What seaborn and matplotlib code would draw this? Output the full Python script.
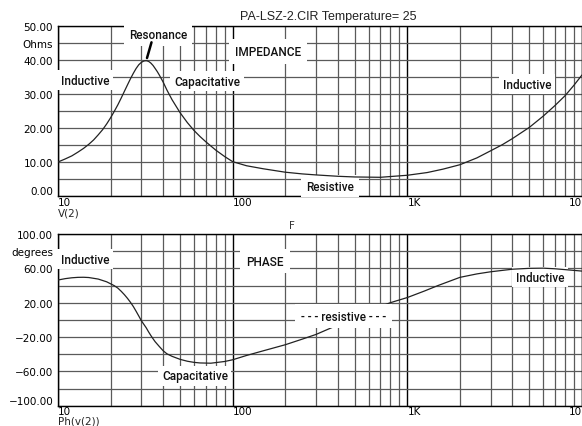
import seaborn as sns
import matplotlib.pyplot as plt
from matplotlib.ticker import LogLocator, MultipleLocator, NullFormatter

# impedance |V(2)| in ohms
freq_z = [10, 11, 12, 13, 14, 15, 16, 17, 18, 19, 20, 21, 22, 23, 24, 25, 26, 27, 28, 29,
          30, 31, 32, 33, 34, 35, 36, 37, 38, 40, 42, 45, 50, 55, 60, 65, 70, 80, 90,
          100, 120, 150, 200, 250, 300, 400, 500, 700, 1000, 1300, 1600, 2000, 2500,
          3000, 3500, 4000, 5000, 6000, 7000, 8000, 9000, 10000]
impedance = [10.0, 10.9, 11.8, 12.9, 14.0, 15.2, 16.5, 18.0, 19.5, 21.2, 23.0, 24.9,
             26.8, 28.8, 30.8, 32.7, 34.5, 36.1, 37.5, 38.6, 39.3, 39.7, 39.8, 39.6,
             39.1, 38.4, 37.5, 36.6, 35.6, 33.5, 31.2, 28.3, 24.5, 21.6, 19.3, 17.5,
             16.0, 13.5, 11.6, 10.1, 8.9, 8.0, 7.0, 6.5, 6.2, 5.8, 5.6, 5.5, 6.1, 6.9,
             7.9, 9.2, 11.2, 13.3, 15.1, 16.9, 20.2, 23.5, 26.6, 29.5, 32.6, 35.6]

# phase of V(2) in degrees, lower trace
freq_ph = [10, 11, 12, 13, 14, 15, 17, 19, 20, 21, 22, 23, 24, 25, 26, 27, 28, 29, 30,
           31, 32, 33, 34, 35, 36, 38, 40, 42, 45, 50, 55, 60, 65, 75, 90, 100, 120,
           150, 200, 250, 300, 400, 500, 650, 800, 1000, 1250, 1500, 2000, 2500, 3000,
           4000, 5000, 6000, 7000, 8000, 10000]
phase = [46.4, 48.0, 49.0, 49.5, 49.6, 49.3, 47.5, 44.3, 42.0, 39.8, 37.0, 33.3, 29.3,
         25.0, 20.4, 15.5, 10.0, 4.5, -1.0, -5.2, -9.3, -14.0, -18.2, -22.0, -25.5,
         -31.0, -36.0, -39.5, -42.5, -46.0, -48.2, -49.5, -50.2, -50.5, -48.5, -46.5,
         -41.5, -36.0, -29.0, -22.5, -17.0, -6.0, 1.0, 13.0, 20.0, 26.0, 33.5, 40.0,
         49.5, 53.5, 56.0, 59.0, 60.0, 60.2, 59.5, 58.5, 56.8]

x_ticks = [10, 100, 1000, 10000]
x_tick_labels = ['10', '100', '1K', '10']
z_ticks = [0, 10, 20, 30, 40, 45, 50]
z_tick_labels = ['0.00', '10.00', '20.00', '30.00', '40.00', 'Ohms', '50.00']
ph_ticks = [-100, -60, -20, 20, 60, 80, 100]
ph_tick_labels = ['\u2212100.00', '\u221260.00', '\u221220.00', '20.00', '60.00',
                  'degrees', '100.00']

sns.set_theme(style='white')
plt.rcParams['font.family'] = ['DejaVu Sans']
label_font = ['Roboto', 'Liberation Sans', 'DejaVu Sans']

W, H = 582, 427
fig = plt.figure(figsize=(W / 100, H / 100), dpi=100)
ax_z = fig.add_axes([58 / W, 1 - 197 / H, 524 / W, 170 / H])
ax_ph = fig.add_axes([58 / W, 1 - 406.7 / H, 524 / W, 171.7 / H])


def setup_axes(ax, ticks, labels, ylim, step):
    ax.set_xscale('log')
    ax.set_xlim(10, 10000)
    ax.set_ylim(*ylim)
    ax.set_xticks(x_ticks)
    ax.set_xticklabels(x_tick_labels)
    ax.xaxis.set_minor_locator(LogLocator(base=10, subs=range(2, 10)))
    ax.xaxis.set_minor_formatter(NullFormatter())
    ax.set_yticks(ticks)
    ax.set_yticklabels(labels)
    ax.yaxis.set_minor_locator(MultipleLocator(step))
    ax.set_axisbelow(True)
    ax.grid(which='major', axis='x', color='black', lw=1.0)
    ax.grid(which='minor', axis='x', color='#5a5a5a', lw=0.9)
    ax.grid(which='both', axis='y', color='#5a5a5a', lw=0.9)
    ax.tick_params(which='both', length=0, labelsize=7.5, colors='black')
    ax.tick_params(axis='x', pad=0.5)
    ax.tick_params(axis='y', pad=3.5)
    for lbl in ax.get_xticklabels():
        lbl.set_ha('left')
    ax.get_xticklabels()[-1].set_ha('right')
    ax.get_yticklabels()[0].set_va('bottom')
    for s in ax.spines.values():
        s.set_color('black')
        s.set_linewidth(1.0)
    ax.set_xlabel('')
    ax.set_ylabel('')


def label(ax, x, y, s, z=3, pad=0.3):
    ax.text(x, y, s, ha='center', va='center', fontsize=8.5, family=label_font,
            fontweight='medium', color='#111111', zorder=z,
            bbox=dict(boxstyle=f'square,pad={pad}', fc='white', ec='none'))


sns.lineplot(x=freq_z, y=impedance, ax=ax_z, color='#222222', lw=0.9, zorder=4)
sns.lineplot(x=freq_ph, y=phase, ax=ax_ph, color='#222222', lw=0.9, zorder=4)

setup_axes(ax_z, z_ticks, z_tick_labels, (0, 50), 5)
setup_axes(ax_ph, ph_ticks, ph_tick_labels, (-100, 100), 20)

# impedance annotations
label(ax_z, 37.4, 47.6, 'Resonance', pad=0.45)
i_pk = impedance.index(max(impedance))
ax_z.annotate('', xy=(freq_z[i_pk], impedance[i_pk]), xytext=(34.3, 45.2),
              arrowprops=dict(arrowstyle='-', lw=1.8, color='black', shrinkA=0, shrinkB=2))
label(ax_z, 159, 42.6, 'IMPEDANCE', pad=0.5)
label(ax_z, 14.3, 34.1, 'Inductive')
label(ax_z, 71.3, 33.8, 'Capacitative')
label(ax_z, 4840, 32.9, 'Inductive')
label(ax_z, 361, 2.9, 'Resistive', pad=0.4)

# phase annotations
label(ax_ph, 14.3, 70.8, 'Inductive')
label(ax_ph, 153, 68.5, 'PHASE', pad=0.5)
label(ax_ph, 60.8, -65, 'Capacitative')
label(ax_ph, 433, 4.4, '- - - resistive - - -', z=6, pad=0.5)
label(ax_ph, 5750, 49.9, 'Inductive')

fig.text(328 / W, 1 - 17 / H, 'PA-LSZ-2.CIR Temperature= 25', ha='center', va='center',
         fontsize=9, family=['Liberation Sans', 'DejaVu Sans'], color='#222222')
fig.text(58 / W, 1 - 214 / H, 'V(2)', ha='left', va='center', fontsize=7.5)
fig.text(292 / W, 1 - 226 / H, 'F', ha='center', va='center', fontsize=7.5, color='#333333')
fig.text(58 / W, 1 - 422 / H, 'Ph(v(2))', ha='left', va='center', fontsize=7.5)

fig.savefig('out.png', dpi=100)
